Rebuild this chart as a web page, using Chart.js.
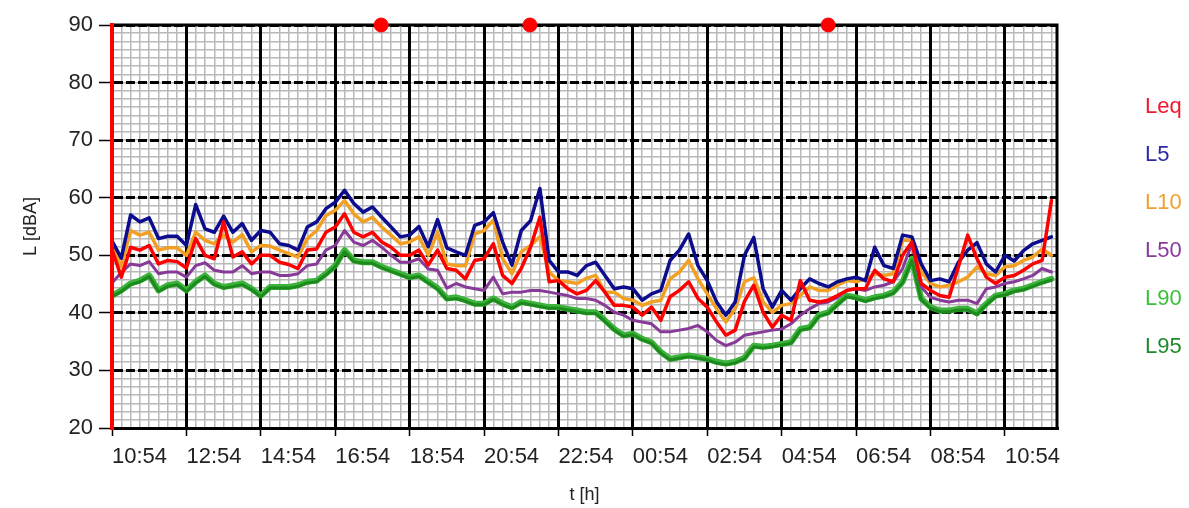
<!DOCTYPE html>
<html><head><meta charset="utf-8">
<script src="https://cdn.jsdelivr.net/npm/chart.js@4.4.1/dist/chart.umd.min.js"></script>
<style>html,body{margin:0;padding:0;background:#fff;}#wrap{width:1189px;height:508px;position:relative;}</style>
</head><body><div id="wrap"><canvas id="c"></canvas></div>
<script>
// ---- data ----
const intervalMinutes = 15;            // sample spacing, starting at 10:54
const xMaxMinutes = 1524;              // end of time axis (minutes after 10:54)
const xTickStepMinutes = 120;
const xTickLabels = ["10:54","12:54","14:54","16:54","18:54","20:54","22:54","00:54","02:54","04:54","06:54","08:54","10:54"];
const yTickLabels = [20,30,40,50,60,70,80,90];
const seriesNames = ["Leq","L5","L10","L50","L90","L95"];

const leq = [51,46.2,51.4,50.9,51.7,48.5,49.1,48.9,47.8,52.9,
50,49.4,55.8,49.7,50.6,48.5,50,50,48.8,48.4,
47.7,50.9,51.1,54,54.9,57.2,54,53.2,54,52.3,
51.4,50,50,50.9,48.3,50.9,47.7,47.4,45.9,49.1,
49.4,52,46.5,45.1,47.7,51.4,56.6,45.4,45.6,44.2,
43.3,43.9,45.6,43.6,41.3,41.3,41,39.6,41,38.7,
42.8,43.9,45.4,42.5,41,38.4,36.1,37,42,44.8,
40.1,37.5,39.6,38.7,45.6,42.2,41.9,42.2,43,43.9,
44.2,44.2,47.4,45.9,45.4,50,52.3,45.1,43.9,43,
42.7,48,53.5,49.4,46.2,45.1,46.2,46.5,47.4,48.5,
49.1,59.5];
const l5 = [52.5,49.5,57,55.8,56.5,52.9,53.3,53.3,51.7,58.8,
54.6,54,56.8,54,55.5,52.6,54.3,54,52,51.7,
50.9,54.9,55.8,58.1,59.2,61.3,59,57.5,58.4,56.6,
54.9,53.2,53.5,55,51.5,56.2,51.3,50.6,50,55.2,
55.8,57.4,52.3,48.3,54.3,56,61.6,49.1,47.1,47.1,
46.5,48.2,48.8,46.5,44.2,44.5,44.2,42.2,43.3,43.9,
49.1,50.9,53.7,48.2,45.6,41.9,39.6,41.9,50,53.1,
44.2,41,43.9,42.2,44.2,45.9,45.1,44.5,45.4,45.9,
46.2,45.6,51.4,48.2,47.7,53.5,53.2,48.5,45.6,45.9,
45.4,48.8,50.9,52.2,48.5,47.1,50,49,50.8,52,
52.6,53.2];
const l10 = [51.8,48,54.3,53.5,54,50.9,51.3,51.3,50,54,
52.6,52,53.5,52.3,53.6,50.6,51.7,51.6,50.9,50.3,
49.7,52.9,54.3,56.9,57.8,59.5,57.2,55.8,56.6,54.9,
53.5,52,52.3,53.2,50,54,48.5,48.2,48.2,53.7,
54.3,56.1,49.4,46.8,50.6,51.7,53.2,47.1,45.6,45.4,
45.1,46,46.5,43.6,43.6,42.5,42.2,41.3,41.9,42.2,
45.9,47.1,49.1,45.9,43.3,40.7,38.4,40.7,45.4,46.1,
41.9,40.1,41.3,41.6,43,44.5,43.9,43.9,44.8,45.6,
45.4,45.9,46.8,46.5,46.8,52.6,52.6,47.1,45.1,44.5,
44.8,45.4,46.2,48,46.8,46.5,48,48.2,49.1,49.7,
51.1,50];
const l50 = [45.2,47,48.5,48.2,48.9,46.8,47.1,47.1,46.2,48.2,
48.7,47.4,47.1,47.1,48.2,46.8,47.1,47.1,46.5,46.5,
46.8,48.2,48.5,50.9,51.7,54.3,52.3,51.7,52.6,51.4,
50,48.8,48.8,49.4,47.6,47.4,44.3,45.1,44.5,44.2,
43.9,46.2,43.3,43.6,43.6,43.9,43.9,43.6,43.3,43,
42.5,42.5,42.2,41.3,40.1,39.6,38.7,38.4,38.1,36.7,
36.7,37,37.3,37.8,36.7,35.2,34.3,34.9,36.1,36.4,
36.7,37,37.2,38.1,39.6,40.7,41.6,41.9,42.7,43.9,
44.2,43.9,44.5,44.8,45.4,47.7,52,44.5,42.7,42.2,
41.9,42.2,42.2,41.6,44.2,44.5,45.1,45.4,45.9,46.5,
47.7,47.1];
const l90 = [43,43.9,45.1,45.6,46.5,43.9,44.8,45.1,43.9,45.4,
46.5,45.1,44.5,44.8,45.1,44.2,43,44.5,44.5,44.5,
44.8,45.4,45.6,46.8,48.2,50.9,49.1,48.8,48.8,48,
47.4,46.8,46.2,46.5,45.4,44.3,42.5,42.7,42.2,41.6,
41.6,42.5,41.6,41,41.9,41.6,41.3,41,41,40.7,
40.4,40.1,40.1,38.7,37.2,36.1,36.4,35.5,34.9,33.2,
32,32.3,32.6,32.3,32,31.5,31.2,31.5,32.2,34.3,
34.1,34.3,34.6,34.9,37.2,37.5,39.6,40.1,41.6,43,
42.7,42.2,42.7,43,43.6,45.4,49.4,42.5,41,40.4,
40.4,40.7,40.7,39.9,41.6,43,43.3,43.9,44.2,44.8,
45.4,45.9];
const l95 = [42.8,43.7,44.9,45.4,46.3,43.7,44.6,44.9,43.7,45.2,
46.3,44.9,44.3,44.6,44.9,44,42.8,44.3,44.3,44.3,
44.6,45.2,45.4,46.6,48,50.6,48.9,48.6,48.6,47.8,
47.2,46.6,46,46.3,45.2,44.1,42.3,42.5,42,41.4,
41.4,42.3,41.4,40.8,41.7,41.4,41.1,40.8,40.8,40.5,
40.2,39.9,39.9,38.5,37,35.9,36.2,35.3,34.7,33,
31.8,32.1,32.4,32.1,31.8,31.3,31,31.3,32,34.1,
33.9,34.1,34.4,34.7,37,37.3,39.4,39.9,41.4,42.8,
42.5,42,42.5,42.8,43.4,45.2,49.1,42.3,40.8,40.2,
40.2,40.5,40.5,39.7,41.4,42.8,43.1,43.7,44,44.6,
45.2,45.7];
const eventMinutes = [434, 674, 1155];   // red markers on the top edge
const eventLevel = [90, 90, 90];

// ---- styles ----
const FONT = "'Liberation Sans', Arial, sans-serif";
const TXT = '#222';
const lineColors = {Leq:'#ff0000', L5:'#0c0c8c', L10:'#f2a024', L50:'#873a98', L90:'#3cb43c', L95:'#1c8a1c'};
const legendColors = ['#f01830','#2a2aa8','#f0a030','#8a3a9a','#3cc03c','#1f8a2a'];

const toXY = arr => arr.map((v,i)=>({x:i*intervalMinutes, y:v}));

const framePlugin = {
  id:'frame',
  beforeDatasetsDraw(chart){
    const {ctx, chartArea:a} = chart;
    ctx.save();
    ctx.strokeStyle = '#000'; ctx.lineWidth = 3;
    ctx.beginPath();
    ctx.moveTo(a.left, a.top); ctx.lineTo(a.right, a.top); ctx.lineTo(a.right, a.bottom);
    ctx.stroke();
    ctx.restore();
  }
};
const legendPlugin = {
  id:'textLegend',
  afterDraw(chart){
    const {ctx, chartArea:a} = chart;
    ctx.save();
    ctx.font = '22px ' + FONT;
    ctx.textBaseline = 'middle';
    ctx.textAlign = 'left';
    seriesNames.forEach((n,i)=>{
      ctx.fillStyle = legendColors[i];
      ctx.fillText(n, a.right + 88, a.top + 82 + i*48);
    });
    ctx.restore();
  }
};

const mk = (label, data, color, w) => ({label, data: toXY(data), borderColor: color, backgroundColor: color,
  borderWidth: w, pointRadius: 0, tension: 0, fill: false, borderJoinStyle:'round', borderCapStyle:'round'});

new Chart(document.getElementById('c'), {
  type: 'line',
  data: {
    datasets: [
      {type:'scatter', label:'events', data: eventMinutes.map((m,i)=>({x:m, y:eventLevel[i]})),
        pointRadius:7, pointBackgroundColor:'#ff0000', pointBorderColor:'#ff0000', showLine:false, clip:false},
      mk('Leq', leq, lineColors.Leq, 3.5),
      mk('L5', l5, lineColors.L5, 3.5),
      mk('L10', l10, lineColors.L10, 3.5),
      mk('L50', l50, lineColors.L50, 3),
      mk('L95', l95, lineColors.L95, 3),
      mk('L90', l90, lineColors.L90, 6)
    ]
  },
  options: {
    responsive: true, maintainAspectRatio: false, animation: false, devicePixelRatio: 1,
    layout: {padding: {top: 25, right: 132, left: 0, bottom: 0}},
    plugins: {legend: {display: false}, tooltip: {enabled: false}},
    scales: {
      x: {
        type: 'linear', position: 'bottom', min: 0, max: xMaxMinutes,
        afterBuildTicks: s => { s.ticks = xTickLabels.map((_,i)=>({value: i*xTickStepMinutes})); },
        afterFit: s => { s.height = 80; },
        ticks: {callback: (v,i)=>xTickLabels[i], align:'start', padding: 8, autoSkip:false, maxRotation:0,
          font:{family:FONT, size:22}, color:TXT},
        grid: {color:'#000', lineWidth:3, tickLength:8, tickColor:'#000', tickWidth:1.5, z:-1},
        border: {color:'#000', width:3},
        title: {display:true, text:'t [h]', color:TXT, font:{family:FONT, size:18}, padding:{top:0, bottom:2}}
      },
      xMinor: {
        type: 'linear', position: 'bottom', min: 0, max: xMaxMinutes,
        afterBuildTicks: s => { const t=[]; for (let m=0; m<=xMaxMinutes; m+=intervalMinutes) t.push({value:m}); s.ticks=t; },
        afterFit: s => { s.height = 0; },
        ticks: {display:false},
        grid: {color:'#b8b8b8', lineWidth:1.5, drawTicks:false, z:-2},
        border: {display:false}
      },
      y: {
        type: 'linear', position: 'left', min: 20, max: 90,
        afterBuildTicks: s => { s.ticks = yTickLabels.map(v=>({value:v})); },
        afterFit: s => { s.width = 112; },
        ticks: {padding: 6, font:{family:FONT, size:22}, color:TXT},
        grid: {color:'#000', lineWidth:3, tickLength:13, tickColor:'#000', tickWidth:1.5, z:-1},
        border: {color:'#ff0000', width:4, dash:[9,3], z:1},
        title: {display:true, text:'L [dBA]', color:TXT, font:{family:FONT, size:18}, padding:{top:20, bottom:0}}
      },
      yMinor: {
        type: 'linear', position: 'left', min: 20, max: 90,
        afterBuildTicks: s => { const t=[]; for (let i=0;i<=49;i++) t.push({value:20 + i*10/7}); s.ticks=t; },
        afterFit: s => { s.width = 0; },
        ticks: {display:false},
        grid: {color:'#b8b8b8', lineWidth:1.5, drawTicks:false, z:-2},
        border: {display:false}
      }
    }
  },
  plugins: [framePlugin, legendPlugin]
});
</script></body></html>
